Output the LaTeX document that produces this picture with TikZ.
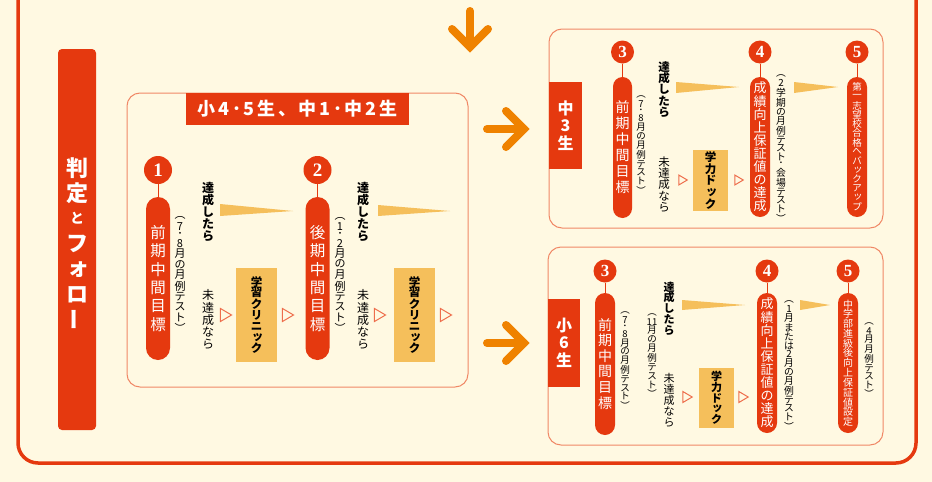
\documentclass[tikz,border=0pt]{standalone}
\usepackage{fontspec}
\usepackage{graphicx}
\setmainfont{Noto Sans CJK JP}
\newfontfamily\numfont{Liberation Serif}
\usetikzlibrary{shapes.misc}

\definecolor{jred}{HTML}{E5390F}
\definecolor{jline}{HTML}{F08866}
\definecolor{jtri}{HTML}{EE6E4C}
\definecolor{jgold}{HTML}{F5BF5B}
\definecolor{jorange}{HTML}{EF8200}
\definecolor{jbg}{HTML}{FFF9E2}

% vertical text: \vtext gives one cell of height #1 per character,
% \vprop a cell as tall as the glyph (at least .5em) plus a gap #1
\makeatletter
\newdimen\vt@h
\newcommand\vtext[2]{\vbox{\offinterlineskip
    \@tfor\vt@c:=#2\do{\hbox to 1.3em{\hss\vbox to #1{\vss\hbox{\vt@c}\vss}\hss}}}}
\newcommand\vprop[2]{\vbox{\offinterlineskip
    \@tfor\vt@c:=#2\do{\setbox\z@\hbox{\vt@c}%
        \vt@h=\dimexpr\ht\z@+\dp\z@\relax
        \ifdim\vt@h<.5em \vt@h=.5em \fi
        \hbox to 1.3em{\hss\vbox to \dimexpr\vt@h+#1\relax{\vss\box\z@\vss}\hss}}}}
\makeatother
\newcommand\vbar{\rotatebox[origin=c]{90}{ー}}
\newcommand\sk[1]{\kern.18em#1}

\tikzset{
    vt/.style={inner sep=0pt},
    pill/.style={vt, fill=jred, text=white, rounded corners=#1, minimum width=2*#1},
    num/.style={circle, fill=jred, text=white, inner sep=0pt, minimum size=#1},
    goldbox/.style={vt, fill=jgold, minimum width=#1},
    tag/.style={fill=jred, text=white, inner sep=0pt},
    note/.style={vt, font=\fontsize{#1}{#1}\selectfont},
    passlbl/.style={vt, font=\bfseries\fontsize{#1}{#1}\selectfont},
    faillbl/.style={vt, font=\fontsize{#1}{#1}\selectfont},
    panel/.style={draw=jline, line width=1pt, rounded corners=13pt},
    outerframe/.style={draw=jred, line width=3.5pt, rounded corners=20pt},
    stem/.style={draw=jred, line width=1pt},
    tri/.style={draw=jtri, line width=1pt, line join=miter},
    bigarrow/.style={draw=jorange, line width=8pt, line cap=round, line join=miter}
}

\begin{document}
\begin{tikzpicture}[x=1pt, y=-1pt]
    \useasboundingbox (0,0) rectangle (932,482);
    \fill[jbg] (0,0) rectangle (932,482);
    \draw[outerframe] (18,-6) -- (18,463) -- (916,463) -- (916,-6);

    % left bar
    \fill[jred, rounded corners=4pt] (58,49) rectangle (96,430);
    \node[vt, text=white, font=\bfseries\fontsize{22}{22}\selectfont] (judge) at (77,244)
        {\vtext{25.3pt}{判定{\fontsize{14}{14}\selectfont と}フ{\sk{ォ}}ロ{\vbar}}};

    % orange arrows
    \draw[bigarrow] (470,11) -- (470,47);
    \draw[bigarrow] (452,29) -- (470,47) -- (488,29);
    \draw[bigarrow] (487,129) -- (524,129);
    \draw[bigarrow] (506,111) -- (524,129) -- (506,147);
    \draw[bigarrow] (487,343) -- (524,343);
    \draw[bigarrow] (506,325) -- (524,343) -- (506,361);

    % panel A
    \draw[panel] (127,93) rectangle (468,387);
    \node[tag, minimum width=223, minimum height=32, font=\bfseries\fontsize{18}{18}\selectfont\addfontfeature{LetterSpace=15}] (ttlA) at (297.5,109) {小4･5生、中1･中2生};

    \node[num=28, font=\numfont\bfseries\fontsize{19}{19}\selectfont] (n1) at (158,170) {1};
    \node[num=28, font=\numfont\bfseries\fontsize{19}{19}\selectfont] (n2) at (317.5,170) {2};
    \node[pill=12, minimum height=163, font=\fontsize{15.5}{15.5}\selectfont] (p1) at (158,278.5) {\vtext{18.4pt}{前期中間目標}};
    \node[pill=12, minimum height=163, font=\fontsize{15.5}{15.5}\selectfont] (p2) at (317.5,278.5) {\vtext{18.4pt}{後期中間目標}};
    \draw[stem] (n1) -- (p1);
    \draw[stem] (n2) -- (p2);

    \node[note=11] (a1) at (180,274) {\vprop{1.6pt}{︵7･8月の月例テスト︶}};
    \node[note=11] (a2) at (340,274) {\vprop{1.6pt}{︵1･2月の月例テスト︶}};
    \node[passlbl=12] (ok1) at (208,212) {\vtext{12.3pt}{達成したら}};
    \node[passlbl=12] (ok2) at (363,212) {\vtext{12.3pt}{達成したら}};
    \node[faillbl=12] (ng1) at (208,320) {\vtext{12.3pt}{未達成なら}};
    \node[faillbl=12] (ng2) at (363,320) {\vtext{12.3pt}{未達成なら}};
    \node[goldbox=41, minimum height=94, font=\bfseries\fontsize{11.5}{11.5}\selectfont] (g1) at (256.5,315) {\vtext{11.1pt}{学習クリニ{\sk{ッ}}ク}};
    \node[goldbox=41, minimum height=94, font=\bfseries\fontsize{11.5}{11.5}\selectfont] (g2) at (414.5,315) {\vtext{11.1pt}{学習クリニ{\sk{ッ}}ク}};
    \fill[jgold] (220,204) -- (293,211) -- (220,216) -- cycle;
    \fill[jgold] (378,205) -- (450,211) -- (378,216) -- cycle;

    % panel B
    \draw[panel] (549,29) rectangle (883,228);
    \node[tag, minimum width=33, minimum height=87, font=\bfseries\fontsize{16}{16}\selectfont] (tagB) at (565.5,125.5) {\vtext{17.5pt}{中3生}};
    \node[num=23, font=\numfont\bfseries\fontsize{17}{17}\selectfont] (n3) at (622.5,52) {3};
    \node[num=23, font=\numfont\bfseries\fontsize{17}{17}\selectfont] (n4) at (760,52) {4};
    \node[num=23, font=\numfont\bfseries\fontsize{17}{17}\selectfont] (n5) at (857,52) {5};
    \node[pill=9.5, minimum height=141, font=\fontsize{14}{14}\selectfont] (p3) at (622.5,147.5) {\vtext{16pt}{前期中間目標}};
    \node[pill=10, minimum height=140, font=\fontsize{13}{13}\selectfont] (p4) at (760,147) {\vtext{13.1pt}{成績向上保証値の達成}};
    \node[pill=10, minimum height=140, font=\fontsize{9.5}{9.5}\selectfont] (p5) at (857,147) {\vtext{9.2pt}{第一志望校合格へバ{\sk{ッ}}クア{\sk{ッ}}プ}};
    \draw[stem] (n3) -- (p3);
    \draw[stem] (n4) -- (p4);
    \draw[stem] (n5) -- (p5);
    \node[note=9.5] (a3) at (641,144.5) {\vprop{1.25pt}{︵7･8月の月例テスト︶}};
    \node[note=9.8] (a4) at (781,148) {\vprop{1.05pt}{︵2学期の月例テスト･会場テスト︶}};
    \node[passlbl=11.5] (ok3) at (664,89.5) {\vtext{11.3pt}{達成したら}};
    \node[faillbl=11.5] (ng3) at (664,184.5) {\vtext{11.3pt}{未達成なら}};
    \node[goldbox=35, minimum height=61, font=\bfseries\fontsize{11.5}{11.5}\selectfont] (g3) at (710.5,180.5) {\vtext{11.8pt}{学力ド{\sk{ッ}}ク}};
    \fill[jgold] (676,82) -- (739,87) -- (676,93) -- cycle;
    \fill[jgold] (794,82) -- (838,87) -- (794,93) -- cycle;

    % panel C
    \draw[panel] (548,247) rectangle (883,445);
    \node[tag, minimum width=32, minimum height=88, font=\bfseries\fontsize{16}{16}\selectfont] (tagC) at (564,343) {\vtext{17.5pt}{小6生}};
    \node[num=23, font=\numfont\bfseries\fontsize{17}{17}\selectfont] (n6) at (605,271) {3};
    \node[num=23, font=\numfont\bfseries\fontsize{17}{17}\selectfont] (n7) at (767,271) {4};
    \node[num=23, font=\numfont\bfseries\fontsize{17}{17}\selectfont] (n8) at (848,271) {5};
    \node[pill=10, minimum height=142, font=\fontsize{14}{14}\selectfont] (p6) at (605,364) {\vtext{15.7pt}{前期中間目標}};
    \node[pill=10, minimum height=140, font=\fontsize{13}{13}\selectfont] (p7) at (767,363) {\vtext{13.1pt}{成績向上保証値の達成}};
    \node[pill=10, minimum height=140, font=\fontsize{10}{10}\selectfont] (p8) at (848,363) {\vtext{9.8pt}{中学部進級後向上保証値設定}};
    \draw[stem] (n6) -- (p6);
    \draw[stem] (n7) -- (p7);
    \draw[stem] (n8) -- (p8);
    \node[note=9.5] (a6) at (625,360) {\vprop{1.15pt}{︵7･8月の月例テスト︶}};
    \node[note=9.5] (a7) at (652,355) {\vprop{1.25pt}{︵{11}月の月例テスト︶}};
    \node[note=9.8] (a8) at (789,365) {\vprop{1pt}{︵1月または2月の月例テスト︶}};
    \node[note=9.5] (a9) at (869,359.5) {\vprop{1.2pt}{︵4月月例テスト︶}};
    \node[passlbl=11] (ok6) at (669,308.5) {\vtext{10.8pt}{達成したら}};
    \node[faillbl=11] (ng6) at (669,400.5) {\vtext{11.2pt}{未達成なら}};
    \node[goldbox=35, minimum height=60, font=\bfseries\fontsize{11}{11}\selectfont] (g6) at (716.5,398) {\vtext{10.8pt}{学力ド{\sk{ッ}}ク}};
    \fill[jgold] (682,300) -- (745,305) -- (682,310) -- cycle;
    \fill[jgold] (800,300) -- (830,305) -- (800,310) -- cycle;

    % small hollow triangles
    \foreach \x/\y/\s in {226/315/6.5, 288/315/6.5, 380/315/6.5, 446/315/6.5,
                          683/180/5, 739/180/5, 687.5/397/5.5, 743.5/397/5.5}
        \draw[tri] (\x-0.85*\s,\y-\s) -- (\x+0.85*\s,\y) -- (\x-0.85*\s,\y+\s) -- cycle;
\end{tikzpicture}
\end{document}
